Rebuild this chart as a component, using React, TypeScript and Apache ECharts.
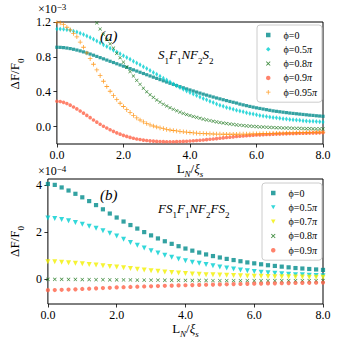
import React, { useEffect, useRef } from "react";
import * as echarts from "echarts";

// x sample positions (L_N / xi_s)
const xTop = Array.from({ length: 81 }, (_, i) => +(i * 0.1).toFixed(1));
const xBot = Array.from({ length: 41 }, (_, i) => +(i * 0.2).toFixed(1));

// Panel (a): S1F1NF2S2, values in units of 1e-3
const aPhi0 = [
  0.910, 0.909, 0.906, 0.901, 0.895, 0.887, 0.878, 0.868, 0.857, 0.845,
  0.832, 0.819, 0.805, 0.791, 0.777, 0.763, 0.749, 0.735, 0.721, 0.707,
  0.693, 0.679, 0.665, 0.651, 0.637, 0.623, 0.609, 0.595, 0.581, 0.567,
  0.553, 0.539, 0.525, 0.511, 0.497, 0.484, 0.471, 0.458, 0.445, 0.432,
  0.420, 0.408, 0.396, 0.384, 0.372, 0.361, 0.350, 0.339, 0.328, 0.318,
  0.308, 0.298, 0.288, 0.279, 0.270, 0.258, 0.249, 0.240, 0.231, 0.223,
  0.215, 0.208, 0.201, 0.194, 0.187, 0.180, 0.175, 0.170, 0.165, 0.160,
  0.155, 0.151, 0.147, 0.143, 0.139, 0.135, 0.131, 0.128, 0.124, 0.121,
  0.118,
];
const aPhi05 = [
  1.120, 1.119, 1.116, 1.111, 1.104, 1.095, 1.084, 1.071, 1.056, 1.039,
  1.021, 1.002, 0.982, 0.961, 0.940, 0.919, 0.898, 0.877, 0.856, 0.835,
  0.814, 0.793, 0.772, 0.751, 0.730, 0.709, 0.687, 0.665, 0.643, 0.621,
  0.599, 0.577, 0.555, 0.533, 0.511, 0.489, 0.468, 0.447, 0.427, 0.407,
  0.392, 0.374, 0.357, 0.340, 0.323, 0.307, 0.291, 0.275, 0.260, 0.246,
  0.232, 0.220, 0.209, 0.198, 0.188, 0.178, 0.169, 0.160, 0.151, 0.143,
  0.135, 0.128, 0.122, 0.116, 0.110, 0.105, 0.100, 0.095, 0.091, 0.086,
  0.082, 0.079, 0.075, 0.072, 0.068, 0.065, 0.062, 0.060, 0.057, 0.055,
  0.052,
];
const aPhi08 = [
  1.80, 1.80, 1.79, 1.77, 1.74, 1.70, 1.65, 1.59, 1.52, 1.44,
  1.36, 1.27, 1.19, 1.12, 1.06, 1.00, 0.95, 0.90, 0.84, 0.79,
  0.74, 0.685, 0.63, 0.58, 0.53, 0.485, 0.44, 0.40, 0.365, 0.335,
  0.305, 0.280, 0.257, 0.236, 0.216, 0.198, 0.181, 0.166, 0.152, 0.139,
  0.127, 0.116, 0.105, 0.095, 0.086, 0.077, 0.069, 0.061, 0.054, 0.047,
  0.041, 0.035, 0.030, 0.025, 0.020, 0.016, 0.012, 0.008, 0.005, 0.002,
  -0.001, -0.003, -0.005, -0.007, -0.009, -0.011, -0.013, -0.014, -0.016, -0.017,
  -0.018, -0.019, -0.020, -0.021, -0.022, -0.023, -0.024, -0.025, -0.026, -0.026,
  -0.027,
];
const aPhi09 = [
  0.290, 0.287, 0.278, 0.264, 0.246, 0.225, 0.203, 0.179, 0.154, 0.128,
  0.102, 0.076, 0.051, 0.027, 0.004, -0.017, -0.037, -0.055, -0.072, -0.087,
  -0.101, -0.113, -0.124, -0.134, -0.142, -0.149, -0.155, -0.160, -0.164, -0.167,
  -0.170, -0.172, -0.173, -0.174, -0.174, -0.174, -0.173, -0.172, -0.170, -0.168,
  -0.166, -0.163, -0.160, -0.157, -0.154, -0.150, -0.146, -0.142, -0.138, -0.134,
  -0.130, -0.126, -0.122, -0.118, -0.114, -0.111, -0.108, -0.105, -0.102, -0.099,
  -0.097, -0.095, -0.093, -0.091, -0.089, -0.087, -0.086, -0.084, -0.083, -0.081,
  -0.080, -0.079, -0.078, -0.077, -0.076, -0.075, -0.074, -0.073, -0.072, -0.071,
  -0.070,
];
const aPhi095 = [
  1.195, 1.190, 1.170, 1.140, 1.110, 1.070, 1.030, 0.970, 0.910, 0.845,
  0.780, 0.715, 0.650, 0.585, 0.520, 0.460, 0.405, 0.355, 0.310, 0.268,
  0.230, 0.195, 0.163, 0.128, 0.100, 0.075, 0.054, 0.036, 0.020, 0.007,
  -0.005, -0.015, -0.024, -0.032, -0.039, -0.045, -0.050, -0.055, -0.060, -0.064,
  -0.068, -0.072, -0.075, -0.078, -0.080, -0.082, -0.084, -0.085, -0.086, -0.087,
  -0.088, -0.088, -0.088, -0.088, -0.088, -0.087, -0.087, -0.086, -0.085, -0.084,
  -0.083, -0.082, -0.081, -0.080, -0.079, -0.078, -0.077, -0.076, -0.075, -0.074,
  -0.073, -0.072, -0.071, -0.070, -0.069, -0.068, -0.067, -0.066, -0.065, -0.064,
  -0.063,
];

// Panel (b): FS1F1NF2FS2, values in units of 1e-4
const bPhi0 = [
  4.05, 4.01, 3.90, 3.77, 3.63, 3.48, 3.32, 3.15, 2.97, 2.79,
  2.62, 2.45, 2.30, 2.15, 2.00, 1.86, 1.73, 1.61, 1.50, 1.40,
  1.30, 1.21, 1.13, 1.05, 0.98, 0.92, 0.86, 0.81, 0.76, 0.71,
  0.67, 0.63, 0.59, 0.56, 0.53, 0.50, 0.47, 0.45, 0.43, 0.41,
  0.39,
];
const bPhi05 = [
  2.60, 2.58, 2.54, 2.48, 2.41, 2.33, 2.25, 2.16, 2.06, 1.95,
  1.83, 1.70, 1.56, 1.44, 1.32, 1.21, 1.11, 1.02, 0.93, 0.85,
  0.78, 0.72, 0.67, 0.62, 0.57, 0.52, 0.47, 0.43, 0.39, 0.35,
  0.32, 0.29, 0.27, 0.25, 0.23, 0.21, 0.19, 0.18, 0.16, 0.15,
  0.14,
];
const bPhi07 = [
  0.74, 0.74, 0.72, 0.70, 0.67, 0.65, 0.62, 0.60, 0.57, 0.54,
  0.51, 0.48, 0.45, 0.42, 0.39, 0.36, 0.33, 0.30, 0.28, 0.26,
  0.24, 0.22, 0.21, 0.19, 0.18, 0.17, 0.16, 0.15, 0.14, 0.13,
  0.125, 0.12, 0.11, 0.105, 0.10, 0.095, 0.09, 0.085, 0.08, 0.078,
  0.075,
];
const bPhi08 = [
  -0.01, -0.01, -0.01, -0.015, -0.015, -0.02, -0.02, -0.025, -0.025, -0.03,
  -0.03, -0.035, -0.035, -0.04, -0.04, -0.045, -0.045, -0.05, -0.05, -0.055,
  -0.055, -0.06, -0.06, -0.06, -0.065, -0.065, -0.065, -0.065, -0.065, -0.065,
  -0.07, -0.07, -0.07, -0.07, -0.07, -0.07, -0.07, -0.07, -0.07, -0.07,
  -0.07,
];
const bPhi09 = [
  -0.47, -0.465, -0.455, -0.445, -0.435, -0.42, -0.41, -0.395, -0.38, -0.37,
  -0.355, -0.345, -0.335, -0.325, -0.315, -0.305, -0.295, -0.285, -0.278, -0.27,
  -0.262, -0.255, -0.248, -0.24, -0.233, -0.226, -0.22, -0.213, -0.207, -0.201,
  -0.195, -0.19, -0.185, -0.18, -0.175, -0.17, -0.166, -0.162, -0.158, -0.154,
  -0.15,
];

const xTicks = [0, 2, 4, 6, 8];
const aYTicks = [0, 0.4, 0.8, 1.2];
const bYTicks = [0, 2, 4];

const SERIF = "'Liberation Serif', 'DejaVu Serif', serif";
const X_PATH = "path://M0,1.2L1.2,0L5,3.8L8.8,0L10,1.2L6.2,5L10,8.8L8.8,10L5,6.2L1.2,10L0,8.8L3.8,5Z";
const PLUS_PATH = "path://M4.1,0H5.9V4.1H10V5.9H5.9V10H4.1V5.9H0V4.1H4.1Z";
const TRI_DOWN_PATH = "path://M0,0L10,0L5,9Z";

const C_TEAL = "#008b8b";
const C_CYAN = "#00ced1";
const C_GREEN = "#0e6e0e";
const C_RED = "#ff6347";
const C_ORANGE = "#ff8c00";
const C_YELLOW = "#f2f000";

const pairs = (xs: number[], ys: number[]) => xs.map((x, i) => [x, ys[i]]);

const subRich = {
  m: { fontFamily: SERIF, fontSize: 13, color: "#000", verticalAlign: "top", lineHeight: 17 },
  mi: { fontFamily: SERIF, fontSize: 13, fontStyle: "italic", color: "#000", verticalAlign: "top", lineHeight: 17 },
  s: { fontFamily: SERIF, fontSize: 9, color: "#000", verticalAlign: "bottom", lineHeight: 17 },
  si: { fontFamily: SERIF, fontSize: 9, fontStyle: "italic", color: "#000", verticalAlign: "bottom", lineHeight: 17 },
};

const supRich = {
  a: { fontFamily: SERIF, fontSize: 12, color: "#000", verticalAlign: "bottom", lineHeight: 13 },
  p: { fontFamily: SERIF, fontSize: 9, color: "#000", verticalAlign: "top", lineHeight: 13 },
};

export default function App() {
  const ref = useRef<HTMLDivElement>(null);

  useEffect(() => {
    if (!ref.current) return;
    const chart = echarts.init(ref.current, null, { renderer: "svg" });

    const xAxisBase = (gridIndex: number) => ({
      type: "value",
      gridIndex,
      min: 0,
      max: 8,
      interval: 2,
      axisLine: { show: false, onZero: false },
      axisTick: { show: true, inside: false, length: 3.5, lineStyle: { color: "#000", width: 0.8 } },
      axisLabel: {
        show: true,
        margin: 5,
        color: "#000",
        fontFamily: SERIF,
        fontSize: 12,
        formatter: (v: number) => (xTicks.includes(v) ? v.toFixed(1) : ""),
      },
      splitLine: { show: false },
      name: "{m|L}{si|N}{m|/}{mi|ξ}{si|s}",
      nameLocation: "middle",
      nameGap: 12,
      nameTextStyle: { rich: subRich },
    });

    const legendCommon = {
      orient: "vertical",
      itemWidth: 4.5,
      itemHeight: 4.5,
      itemGap: 4.3,
      borderColor: "#cccccc",
      borderWidth: 1,
      borderRadius: 3,
      backgroundColor: "#fff",
      textStyle: {
        fontFamily: SERIF,
        fontSize: 10,
        lineHeight: 10,
        color: "#000",
        padding: [0, 0, 0, 8],
        rich: {
          i: { fontFamily: SERIF, fontSize: 10, fontStyle: "italic", color: "#000" },
        },
      },
      formatter: (name: string) => name.replace("b:", "").replace("π", "{i|π}"),
    };

    const option = {
      animation: false,
      backgroundColor: "#fff",
      grid: [
        { left: 35, top: 22, width: 288, height: 122, show: true, borderColor: "#000", borderWidth: 1 },
        { left: 35, top: 179, width: 288, height: 125, show: true, borderColor: "#000", borderWidth: 1 },
      ],
      xAxis: [xAxisBase(0), xAxisBase(1)],
      yAxis: [
        {
          type: "value",
          gridIndex: 0,
          min: -0.2,
          max: 1.2,
          axisLine: { show: false, onZero: false },
          axisTick: { show: true, inside: false, length: 3.5, customValues: aYTicks, lineStyle: { color: "#000", width: 0.8 } },
          axisLabel: {
            show: true,
            customValues: aYTicks,
            margin: 6,
            color: "#000",
            fontFamily: SERIF,
            fontSize: 12,
            formatter: (v: number) => v.toFixed(1),
          },
          splitLine: { show: false },
          name: "{m|ΔF/F}{s|0}",
          nameLocation: "middle",
          nameGap: 22,
          nameTextStyle: { rich: subRich, padding: [0, 0, 0, 18] },
        },
        {
          type: "value",
          gridIndex: 1,
          min: -1.06,
          max: 4.26,
          axisLine: { show: false, onZero: false },
          axisTick: { show: true, inside: false, length: 3.5, customValues: bYTicks, lineStyle: { color: "#000", width: 0.8 } },
          axisLabel: {
            show: true,
            customValues: bYTicks,
            margin: 6,
            color: "#000",
            fontFamily: SERIF,
            fontSize: 12,
            formatter: (v: number) => String(Math.round(v)),
          },
          splitLine: { show: false },
          name: "{m|ΔF/F}{s|0}",
          nameLocation: "middle",
          nameGap: 18,
          nameTextStyle: { rich: subRich },
        },
      ],
      legend: [
        {
          ...legendCommon,
          left: 257,
          top: 25,
          padding: [5, 5, 5, 9],
          data: ["ϕ=0", "ϕ=0.5π", "ϕ=0.8π", "ϕ=0.9π", "ϕ=0.95π"],
        },
        {
          ...legendCommon,
          left: 262,
          top: 183,
          padding: [5, 5, 5, 9],
          data: [
            "b:ϕ=0",
            { name: "b:ϕ=0.5π", icon: TRI_DOWN_PATH },
            { name: "b:ϕ=0.7π", icon: TRI_DOWN_PATH },
            "b:ϕ=0.8π",
            "b:ϕ=0.9π",
          ],
        },
      ],
      series: [
        { name: "ϕ=0", type: "scatter", xAxisIndex: 0, yAxisIndex: 0, symbol: "rect", symbolSize: 3.2, itemStyle: { color: C_TEAL }, data: pairs(xTop, aPhi0) },
        { name: "ϕ=0.5π", type: "scatter", xAxisIndex: 0, yAxisIndex: 0, symbol: "diamond", symbolSize: [3, 5], itemStyle: { color: C_CYAN }, data: pairs(xTop, aPhi05) },
        { name: "ϕ=0.8π", type: "scatter", xAxisIndex: 0, yAxisIndex: 0, symbol: X_PATH, symbolSize: 3.6, itemStyle: { color: C_GREEN }, data: pairs(xTop, aPhi08) },
        { name: "ϕ=0.9π", type: "scatter", xAxisIndex: 0, yAxisIndex: 0, symbol: "circle", symbolSize: 3.6, itemStyle: { color: C_RED }, data: pairs(xTop, aPhi09) },
        { name: "ϕ=0.95π", type: "scatter", xAxisIndex: 0, yAxisIndex: 0, symbol: PLUS_PATH, symbolSize: 4.6, itemStyle: { color: C_ORANGE }, data: pairs(xTop, aPhi095) },

        { name: "b:ϕ=0", type: "scatter", xAxisIndex: 1, yAxisIndex: 1, symbol: "rect", symbolSize: 4.2, itemStyle: { color: C_TEAL }, data: pairs(xBot, bPhi0) },
        { name: "b:ϕ=0.5π", type: "scatter", xAxisIndex: 1, yAxisIndex: 1, symbol: TRI_DOWN_PATH, symbolSize: 5, itemStyle: { color: C_CYAN }, data: pairs(xBot, bPhi05) },
        { name: "b:ϕ=0.7π", type: "scatter", xAxisIndex: 1, yAxisIndex: 1, symbol: TRI_DOWN_PATH, symbolSize: 5, itemStyle: { color: C_YELLOW }, data: pairs(xBot, bPhi07) },
        { name: "b:ϕ=0.8π", type: "scatter", xAxisIndex: 1, yAxisIndex: 1, symbol: X_PATH, symbolSize: 3.8, itemStyle: { color: C_GREEN }, data: pairs(xBot, bPhi08) },
        { name: "b:ϕ=0.9π", type: "scatter", xAxisIndex: 1, yAxisIndex: 1, symbol: "circle", symbolSize: 4.2, itemStyle: { color: C_RED }, data: pairs(xBot, bPhi09) },
      ],
      graphic: [
        { type: "text", x: 38, y: 2, style: { text: "{a|×10}{p|−3}", rich: supRich } },
        { type: "text", x: 38, y: 164, style: { text: "{a|×10}{p|−4}", rich: supRich } },
        { type: "text", x: 100, y: 28, style: { text: "(a)", fontFamily: SERIF, fontStyle: "italic", fontSize: 15, fill: "#000" } },
        { type: "text", x: 100, y: 187, style: { text: "(b)", fontFamily: SERIF, fontStyle: "italic", fontSize: 15, fill: "#000" } },
        {
          type: "text",
          x: 158,
          y: 48,
          style: { text: "{mi|S}{s|1}{mi|F}{s|1}{mi|NF}{s|2}{mi|S}{s|2}", rich: subRich },
        },
        {
          type: "text",
          x: 158,
          y: 202,
          style: { text: "{mi|FS}{s|1}{mi|F}{s|1}{mi|NF}{s|2}{mi|FS}{s|2}", rich: subRich },
        },
      ],
    };

    chart.setOption(option as any);
    return () => chart.dispose();
  }, []);

  return (
    <div
      ref={ref}
      style={{ position: "absolute", left: 0, top: 0, width: 338, height: 340, background: "#fff" }}
    />
  );
}
